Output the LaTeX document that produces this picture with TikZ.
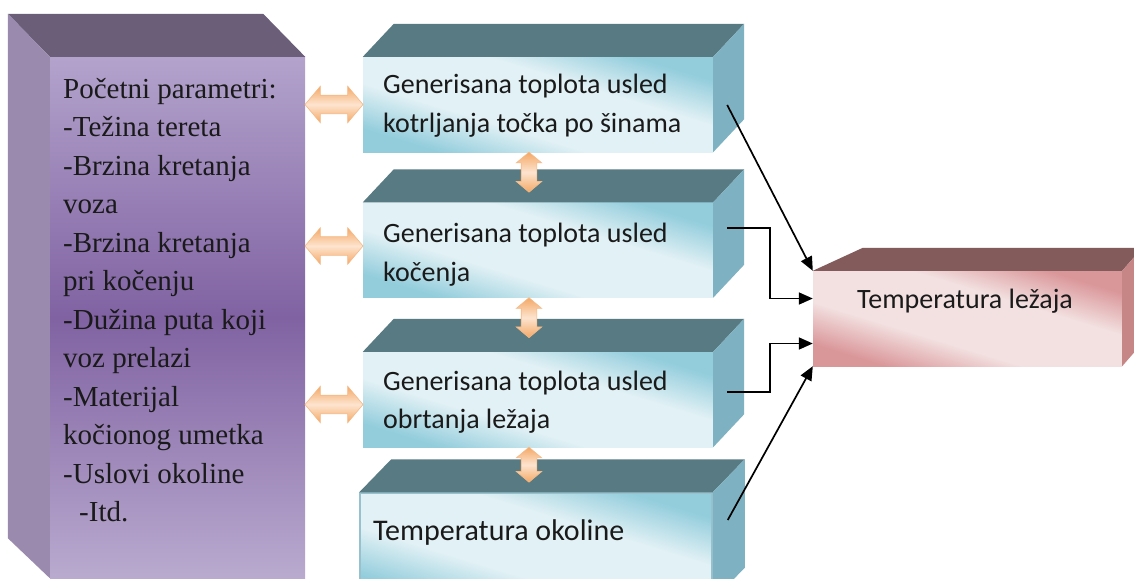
\documentclass[tikz,border=0pt]{standalone}
\usepackage{fontspec}
\setmainfont{Liberation Serif}
\newfontfamily\calib{Carlito}
\usetikzlibrary{shapes.arrows,arrows.meta,calc}

\definecolor{ltop}{HTML}{6B5E79}
\definecolor{lside}{HTML}{9A8AAE}
\definecolor{lfa}{HTML}{B3A3CC}
\definecolor{lfb}{HTML}{8062A2}
\definecolor{lfc}{HTML}{B9AACF}
\definecolor{mtop}{HTML}{587A82}
\definecolor{mside}{HTML}{7EB2C2}
\definecolor{mcyan}{HTML}{93CDDC}
\definecolor{mlight}{HTML}{E2F1F5}
\definecolor{rtop}{HTML}{825B5A}
\definecolor{rside}{HTML}{C68686}
\definecolor{rpink}{HTML}{DA979A}
\definecolor{rlight}{HTML}{F3E1E1}
\definecolor{oedge}{HTML}{F4A866}
\definecolor{olight}{HTML}{FDE4CF}
\definecolor{txt}{HTML}{1A1A1A}

\pgfdeclareverticalshading{mshade}{100bp}{color(0bp)=(mcyan); color(26bp)=(mcyan); color(40bp)=(mlight); color(60bp)=(mlight); color(74bp)=(mcyan); color(100bp)=(mcyan)}
\pgfdeclareverticalshading{rshade}{100bp}{color(0bp)=(rpink); color(26bp)=(rpink); color(40bp)=(rlight); color(60bp)=(rlight); color(74bp)=(rpink); color(100bp)=(rpink)}

\newcommand{\boxfaces}[5]{%
  \fill[#2] (#1.north west) -- ($(#1.north west)+(#4,#5)$) -- ($(#1.north east)+(#4,#5)$) -- (#1.north east) -- cycle;
  \fill[#3] (#1.north east) -- ($(#1.north east)+(#4,#5)$) -- ($(#1.south east)+(#4,#5)$) -- (#1.south east) -- cycle;}

\tikzset{
  leftfront/.style={rectangle, inner sep=0, minimum width=255pt, minimum height=521pt,
    top color=lfa, bottom color=lfc, middle color=lfb},
  midfront/.style={rectangle, inner sep=0, minimum width=350pt, minimum height=95pt,
    shading=mshade, shading angle=-17},
  rightfront/.style={rectangle, inner sep=0, minimum width=309pt, minimum height=95pt,
    shading=rshade, shading angle=-17},
  ltext/.style={anchor=base west, inner sep=0, text=txt, font=\fontsize{29}{35}\selectfont},
  mtext/.style={anchor=base west, inner sep=0, text=txt, font=\calib\fontsize{28}{34}\selectfont},
  harr/.style={double arrow, double arrow head extend=9pt, double arrow tip angle=100,
    minimum height=58pt, inner xsep=0pt, inner ysep=9pt,
    top color=oedge, bottom color=oedge, middle color=olight, draw=oedge!80, line width=0.6pt},
  varr/.style={double arrow, double arrow head extend=5pt, double arrow tip angle=100,
    inner xsep=0pt, inner ysep=7.5pt, rotate=90,
    top color=oedge, bottom color=oedge, middle color=olight, draw=oedge!80, line width=0.6pt},
  conn/.style={line width=1.7pt, black, -{Triangle[length=14pt,width=12pt]}}
}

\begin{document}
\begin{tikzpicture}[x=1pt,y=-1pt]
\useasboundingbox (0,0) rectangle (1134,578);
\clip (0,0) rectangle (1134,578);

% left box
\node[leftfront] (L) at (177.5,317.5) {};
\fill[ltop] (L.north west) -- ++(-42,-43) -- ($(L.north east)+(-42,-43)$) -- (L.north east) -- cycle;
\fill[lside] (L.north west) -- ++(-42,-43) -- ($(L.south west)+(-42,-40)$) -- (L.south west) -- cycle;

% middle boxes
\node[midfront] (B1) at (538,104.5) {};
\boxfaces{B1}{mtop}{mside}{31}{-33}
\node[midfront] (B2) at (538,250) {};
\boxfaces{B2}{mtop}{mside}{31}{-33}
\node[midfront] (B3) at (538,399.5) {};
\boxfaces{B3}{mtop}{mside}{31}{-33}
\node[midfront, minimum width=352pt, minimum height=107pt, draw=mside!80!white, line width=1.5pt] (B4) at (536,546.5) {};
\boxfaces{B4}{mtop}{mside}{32}{-33}

% right box
\node[rightfront] (R) at (967.5,318.5) {};
\fill[rtop] (R.north west) -- ++(50,-23) -- ($(R.north east)+(20,-23)$) -- (R.north east) -- cycle;
\fill[rside] (R.north east) -- ++(20,-23) -- ($(R.south east)+(20,-23)$) -- (R.south east) -- cycle;

% left texts
\foreach \t [count=\i] in {Početni parametri:,-Težina tereta,-Brzina kretanja,voza,-Brzina kretanja,pri kočenju,-Dužina puta koji,voz prelazi,-Materijal,kočionog umetka,-Uslovi okoline}
  \node[ltext] (p\i) at (63,{98+38.5*(\i-1)}) {\t};
\node[ltext] (p12) at (79,521.5) {-Itd.};

% middle texts
\node[mtext] (t1a) at (383,93) {Generisana toplota usled};
\node[mtext] (t1b) at (383,132) {kotrljanja točka po šinama};
\node[mtext] (t2a) at (383,242) {Generisana toplota usled};
\node[mtext] (t2b) at (383,281) {kočenja};
\node[mtext] (t3a) at (383,390) {Generisana toplota usled};
\node[mtext] (t3b) at (383,428) {obrtanja ležaja};
\node[mtext, font=\calib\fontsize{30}{36}\selectfont] (t4) at (373,540) {Temperatura okoline};
\node[mtext] (tr) at (857,308) {Temperatura ležaja};

% orange double arrows
\node[harr] (h1) at ($(L.east |- B1.west)!0.5!(B1.west)$) {};
\node[harr] (h2) at ($(L.east |- B2.west)!0.5!(B2.west)+(0,-4)$) {};
\node[harr] (h3) at ($(L.east |- B3.west)!0.5!(B3.west)+(0,5)$) {};
\node[varr, minimum height=40pt] (v1) at ($(B1.south)+(-9,20)$) {};
\node[varr, minimum height=40pt] (v2) at ($(B2.south)+(-9,20)$) {};
\node[varr, minimum height=35pt] (v3) at ($(B3.south)+(-9,17.5)$) {};

% black connectors
\draw[conn] ($(B1.east)+(14,0.5)$) -- (R.north west);
\draw[conn] ($(B2.east)+(14,-22)$) -- ++(43,0) |- ($(R.west)+(0,-20)$);
\draw[conn] ($(B3.east)+(14,-7.5)$) -- ++(43,0) |- ($(R.west)+(0,25)$);
\draw[conn] ($(B4.east)+(15,-26.5)$) -- (R.south west);
\end{tikzpicture}
\end{document}
